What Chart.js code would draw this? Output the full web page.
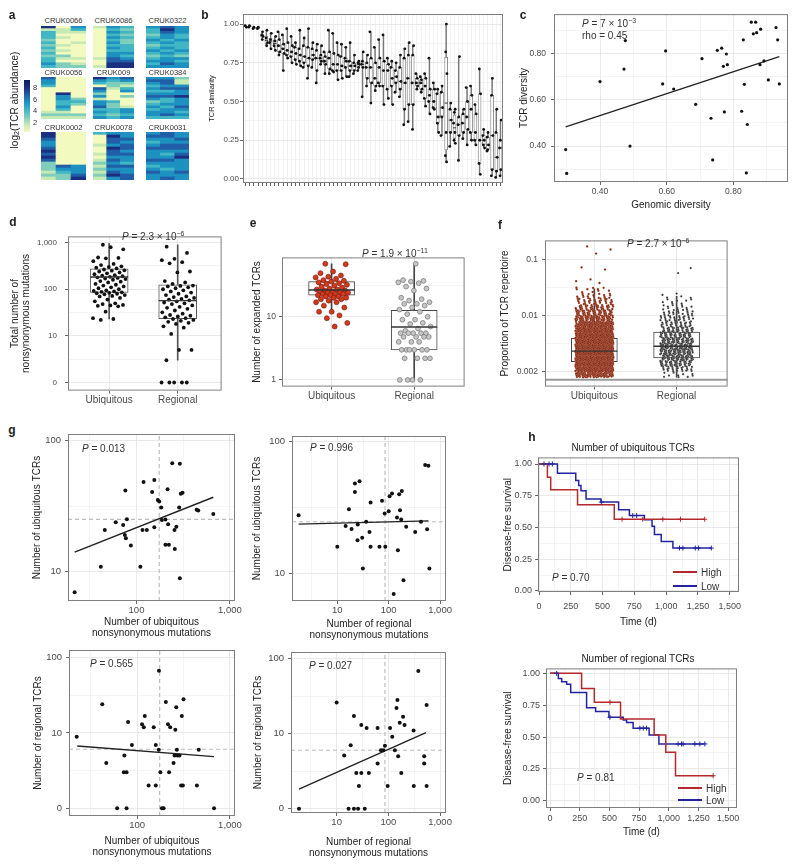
<!DOCTYPE html>
<html>
<head>
<meta charset="utf-8">
<title>TCR figure</title>
<script src="https://cdn.jsdelivr.net/npm/chart.js@4.4.1/dist/chart.umd.min.js"></script>
<style>
  body { margin: 0; background: #fff; }
  #fig { position: relative; width: 800px; height: 868px; overflow: hidden; font-family: "Liberation Sans", Arial, sans-serif; color: #222; }
  #fig canvas { position: absolute; }
  .lt { position: absolute; font-weight: bold; font-size: 12px; transform: translate(-50%, -50%); }
  .ann { position: absolute; white-space: nowrap; font-size: 10px; transform: translateY(-50%); color: #333; }
  .ctr { position: absolute; white-space: nowrap; font-size: 10px; transform: translate(-50%, -50%); color: #222; }
  .hmt { position: absolute; white-space: nowrap; font-size: 7.5px; transform: translate(-50%, -50%); color: #333; }
  .rot { position: absolute; white-space: nowrap; font-size: 10px; transform: translate(-50%, -50%) rotate(-90deg); color: #222; }
  .leg { position: absolute; height: 2px; }
  sup { font-size: 70%; vertical-align: 0.5em; line-height: 0; }
  sub { font-size: 70%; vertical-align: -0.25em; line-height: 0; }
</style>
</head>
<body>
<div id="fig"></div>
<script>
// ---------- a: log2 TCR abundance per clone (rows) and region (cols) ----------
const hmNames = ['CRUK0066', 'CRUK0086', 'CRUK0322', 'CRUK0056', 'CRUK009', 'CRUK0384', 'CRUK0002', 'CRUK0078', 'CRUK0031'];
const hmRegions = ['R1', 'R2', 'R3'];
const hm0066 = [[8,2,6],[3,3,5],[5,3,3],[5,2,2],[5,3,2],[4,2,2],[5,2,3],[4,3,2],[5,2,2],[4,3,2],[5,2,2],[4,4,2],[5,3,3],[5,2,2],[6,4,3],[5,4,4]];
const hm0086 = [[3,6,5],[2,5,4],[2,6,5],[2,5,4],[2,6,5],[2,5,4],[2,6,4],[2,5,5],[2,6,5],[2,5,5],[2,6,6],[2,6,5],[3,7,6],[2,7,7],[2,8,8],[3,8,8]];
const hm0322 = [[6,7,6],[5,8,6],[5,7,6],[4,6,5],[5,6,5],[6,5,6],[5,6,5],[4,5,5],[5,6,5],[6,5,6],[5,6,5],[4,5,4],[5,6,6],[6,6,5],[5,7,6],[6,6,6]];
const hm0056 = [[7,2,2],[6,2,2],[6,2,2],[5,2,2],[2,2,2],[2,2,2],[2,8,2],[2,6,2],[2,6,4],[2,5,5],[2,5,4],[2,6,2],[2,5,2],[3,3,2],[4,4,4],[3,3,3]];
const hm009 = [[8,6,7],[6,5,6],[5,4,4],[2,4,3],[7,3,5],[6,2,6],[4,2,2],[6,2,4],[3,2,2],[6,5,2],[6,4,2],[7,4,3],[5,5,6],[6,5,6],[5,4,5],[6,5,6]];
const hm0384 = [[6,6,4],[7,7,3],[6,7,3],[5,6,6],[6,7,7],[5,5,6],[6,6,6],[7,7,8],[6,5,6],[4,5,6],[5,6,6],[6,5,7],[5,6,6],[6,6,5],[6,7,6],[5,5,5]];
const hm0002 = [[8,2,2],[8,2,2],[7,2,2],[6,2,2],[6,2,2],[7,2,2],[8,2,2],[7,2,2],[8,2,2],[7,2,2],[4,2,2],[4,7,6],[4,6,6],[3,5,6],[4,4,7],[3,4,8]];
const hm0078 = [[5,6,6],[2,8,6],[2,7,7],[2,7,6],[3,6,7],[2,8,7],[2,7,6],[3,7,7],[2,6,6],[3,7,6],[4,6,5],[3,7,7],[4,6,6],[3,7,6],[4,8,7],[3,6,7]];
const hm0031 = [[6,7,6],[7,7,6],[6,6,7],[5,6,6],[6,7,7],[7,7,7],[6,6,6],[6,5,7],[6,6,8],[7,7,6],[6,6,6],[5,6,6],[6,5,6],[7,6,7],[6,6,6],[6,7,6]];
const hmSets = [hm0066, hm0086, hm0322, hm0056, hm009, hm0384, hm0002, hm0078, hm0031];
const hmLegendTicks = [8, 6, 4, 2];

// ---------- b: TCR similarity between regions, per patient ----------
const bSamples = [
  [0.99,0.98],[0.99,0.98],[0.98,0.97],[0.98,0.97],
  [0.95,0.93,0.92,0.90],[0.96,0.91,0.88,0.86],[0.94,0.90,0.88,0.84],[0.92,0.89,0.86,0.83],
  [0.95,0.90,0.86,0.82,0.80],[0.93,0.87,0.84,0.81,0.70],[0.97,0.88,0.83,0.80,0.78],[0.92,0.86,0.82,0.79,0.75],
  [0.88,0.85,0.81,0.77,0.74],[0.96,0.84,0.80,0.76,0.73],[0.91,0.86,0.79,0.75,0.72],[0.97,0.85,0.78,0.73,0.65],
  [0.88,0.84,0.80,0.77,0.72],[0.87,0.83,0.78,0.70,0.62],[0.86,0.80,0.78,0.76,0.74],[0.82,0.79,0.76,0.74,0.68],
  [0.96,0.82,0.78,0.71,0.68],[0.94,0.81,0.74,0.70,0.69],[0.88,0.80,0.74,0.70,0.64],[0.87,0.79,0.73,0.70,0.65],
  [0.85,0.78,0.76,0.72,0.66],[0.88,0.76,0.73,0.70,0.66],[0.80,0.75,0.73,0.70,0.68],[0.76,0.75,0.74,0.72,0.70],
  [0.82,0.76,0.74,0.72,0.53],[0.80,0.75,0.72,0.65,0.60],[0.95,0.78,0.72,0.62,0.49],[0.85,0.75,0.65,0.60,0.57],
  [0.90,0.78,0.72,0.62,0.60],[0.93,0.76,0.70,0.60,0.48],[0.78,0.74,0.70,0.58,0.52],[0.76,0.72,0.65,0.60,0.48],
  [0.75,0.70,0.66,0.62,0.56],[0.80,0.72,0.63,0.58,0.53],[0.84,0.78,0.62,0.45,0.35],[0.88,0.80,0.65,0.48,0.37],
  [0.86,0.80,0.62,0.48,0.32],[0.68,0.65,0.62,0.60,0.58],[0.66,0.64,0.62,0.58,0.56],[0.68,0.65,0.60,0.52,0.47],
  [0.78,0.58,0.54,0.50,0.42],[0.62,0.58,0.50,0.46,0.45],[0.58,0.55,0.40,0.36,0.30],[0.60,0.56,0.46,0.40,0.28],
  [1.00,0.82,0.68,0.30,0.15,0.11],[0.49,0.45,0.38,0.30,0.21],[0.45,0.43,0.36,0.30,0.25,0.23],[0.79,0.40,0.35,0.28,0.12],
  [0.45,0.42,0.36,0.30,0.26],[0.59,0.50,0.40,0.32,0.22],[0.60,0.54,0.45,0.30,0.25],[0.48,0.42,0.30,0.25,0.22],
  [0.71,0.55,0.25,0.10,0.03],[0.32,0.28,0.25,0.22,0.20],[0.30,0.27,0.22,0.19,0.18],[0.65,0.54,0.28,0.06,0.02],
  [0.45,0.30,0.14,0.05,0.01],[0.38,0.25,0.20,0.06,0.02]
];
const bTicks = [0, 0.25, 0.5, 0.75, 1];
const bTickLabels = ['0.00', '0.25', '0.50', '0.75', '1.00'];

// ---------- c: genomic vs TCR diversity ----------
const cX = [0.297,0.30,0.40,0.472,0.476,0.49,0.588,0.597,0.621,0.687,0.706,0.733,0.738,0.752,0.765,0.77,0.773,0.779,0.782,0.825,0.83,0.833,0.839,0.842,0.854,0.867,0.86,0.87,0.882,0.88,0.892,0.905,0.928,0.933,0.938];
const cY = [0.385,0.282,0.678,0.732,0.855,0.40,0.668,0.81,0.646,0.58,0.777,0.52,0.34,0.813,0.822,0.744,0.547,0.797,0.751,0.55,0.858,0.666,0.284,0.493,0.934,0.934,0.884,0.889,0.904,0.751,0.767,0.685,0.911,0.858,0.668];
const cFitX = [0.297, 0.938];
const cFitY = [0.483, 0.786];
const cTicks = [0.4, 0.6, 0.8];
const cTickLabels = ['0.40', '0.60', '0.80'];

// ---------- d: nonsynonymous mutations ----------
const dCats = ['Ubiquitous', 'Regional'];
const dUbi = [900,720,800,480,470,460,400,350,330,310,300,290,280,265,255,250,240,230,220,210,200,195,190,185,180,175,170,165,160,150,145,140,130,125,120,115,110,105,100,95,92,90,88,86,84,82,80,78,75,72,70,65,60,55,50,48,46,45,44,43,33,24,23,22];
const dReg = [820,600,450,420,380,360,240,230,150,140,130,120,118,115,110,105,100,95,90,85,80,75,70,68,65,62,60,58,55,52,50,48,45,42,40,38,35,32,30,28,27,26,25,24,23,22,21,20,19,18,16,15,11,5,5,3,0,0,0,0,0];
const dUbiBox = [23, 85, 183, 275, 970];
const dRegBox = [3, 23.5, 57, 125, 900];
const dTicks = [1, 10, 100, 1000];
const dTickLabels = ['0', '10', '100', '1,000'];

// ---------- e: expanded TCRs ----------
const eUbi = [69,68,52,49,45,43,42,40,38,37,36,35,34,33,32,31,30,29,28,27,27,26,26,25,25,24,24,24,23,23,23,22,22,21,21,20,20,19,19,18,17,17,15,14,12,12,10.5,9.5,8,7];
const eReg = [69,38,37,36,35,34,30,28,26,20,19,18,17,16,16,15,14,13,12,11,10,9,9,8,7.7,7,6.5,6,5.5,5.5,5.5,5.5,5.5,4.8,4.8,4.8,4.8,4,4,4,3,3,3,3,3,3,2.2,2.2,2.2,2.2,1,1,1,1];
const eUbiBox = [12, 22, 26.5, 36, 69];
const eRegBox = [1, 3, 6.9, 12.7, 69];
const eTicks = [1, 10];
const eTickLabels = ['1', '10'];

// ---------- f: proportion of repertoire (counts per 0.1 log10 bin from 10^-3.1) ----------
const fBinStart = -3.1;
const fBinStep = 0.1;
const fUbiBins = [80,150,200,220,220,200,170,140,110,85,65,50,38,28,18,10];
const fRegBins = [10,25,45,55,60,60,55,45,38,30,25,18,12,8,5];
const fUbiOut = [0.17, 0.15, 0.127, 0.072, 0.066, 0.044, 0.041, 0.038];
const fRegOut = [0.07, 0.057];
const fUbiBox = [0.0008, 0.0015, 0.00232, 0.00392, 0.03];
const fRegBox = [0.0008, 0.00176, 0.00284, 0.00505, 0.022];
const fLine = 0.00072;
const fTicks = [0.001, 0.01, 0.1];
const fTickLabels = ['0.002', '0.01', '0.1'];

// ---------- g: TCRs vs mutations ----------
const g1X = [21.8,41.5,45.8,60,72,75,77,79,76,87,110,116,129,119,155,147,155,169,175,184,187,204,222,218,215,204,241,291,286,255,257,267,298,311,291,440,458,663];
const g1Y = [6.95,10.9,20.8,23.8,22.7,19,18,25.1,41.5,15.8,10.9,20.8,20.8,48.3,50,40.5,21.8,35.2,34.3,30.8,24.8,16,16,23,42.5,25,67,66.4,30.8,20.8,14.9,22,39.2,40,8.9,29.6,29.2,27.5];
const g2X = [1.76,10,14.5,16.8,18.9,22,22,27,25,24.7,30.5,31.4,36.4,44.4,42.3,44.4,66,74.1,83.5,86,100,104,116,145,151,125,160,166,180,175,194,219,328,425,513,593,560,620];
const g2Y = [27.7,16,22.9,30.8,21.8,48.3,41.5,50.2,23.6,17.9,18.7,10.9,24.7,34.6,20.7,16,16,35.6,28.6,16,29.7,38.6,40.5,26.6,15,7.0,40,30.2,42.2,25.7,8.9,22.6,20.7,24.7,66.6,65.7,21.7,10.9];
const g3X = [22.4,42.2,46.6,61,73,72,77,77,80,88,113,118,121,133,151,159,159,172,171,178,185,193,204,215,227,221,247,253,264,258,268,272,286,303,316,298,311,440,461,673];
const g3Y = [8.9,24,4,0,5,3,3,0,14,6.9,13,11.9,16.8,2,11.9,2,6.9,67,6,3,0,0,25.8,13,11.9,3,4,5,21.9,11,6,5,5,16.8,28,2,2,2,6,0];
const g4X = [1.87,10,14,17,18.7,21.6,21.6,26,24,30,27,30,35,38,42,62,62,72,80,86,97,108,119,134,144,155,150,166,178,193,206,308,311,380,494,494,550,550];
const g4Y = [0,26,5.1,0,7,17.2,0,0,3,3,2,13,0,11.9,3,11.9,4,6,6,6.9,2,11.9,9.1,6,21.9,5,28,14,3,16.8,13,11,2,68,5,4,24,2];
const g1Fit = [[21.8, 663], [14.1, 36.9]];
const g2Fit = [[1.76, 593], [23.7, 25.1]];
const g3Fit = [[22.7, 673], [6.7, 4.85]];
const g4Fit = [[1.87, 535], [1.82, 10.3]];
const g1Cut = [175, 25];
const g2Cut = [85, 24.7];
const g3Cut = [175, 6.07];
const g4Cut = [86, 6.0];

// ---------- h: Kaplan-Meier (step times, survival after step, censor times) ----------
const h1HighT = [0, 66, 92, 303, 592, 1303];
const h1HighS = [1, 0.895, 0.798, 0.68, 0.565, 0.565];
const h1HighC = [653, 816, 974, 1113, 1303];
const h1LowT = [0, 145, 289, 312, 330, 370, 487, 626, 711, 829, 889, 908, 961, 1053, 1355];
const h1LowS = [1, 0.927, 0.87, 0.83, 0.79, 0.725, 0.70, 0.64, 0.594, 0.56, 0.51, 0.445, 0.39, 0.338, 0.338];
const h1LowC = [39, 79, 105, 490, 737, 768, 1105, 1132, 1229, 1255, 1355];
const h2HighT = [0, 266, 373, 594, 877, 975, 1057, 1374];
const h2HighS = [1, 0.882, 0.773, 0.642, 0.517, 0.381, 0.196, 0.196];
const h2HighC = [505, 1374];
const h2LowT = [0, 70, 98, 140, 174, 308, 384, 496, 617, 645, 700, 835, 917, 1304];
const h2LowS = [1, 0.96, 0.935, 0.914, 0.85, 0.73, 0.70, 0.655, 0.634, 0.614, 0.57, 0.517, 0.446, 0.446];
const h2LowC = [56, 505, 757, 785, 813, 1079, 1107, 1121, 1220, 1262, 1304];
const hTicks = [0, 250, 500, 750, 1000, 1250, 1500];
const hTickLabels = ['0', '250', '500', '750', '1,000', '1,250', '1,500'];
const survTicks = [0, 0.25, 0.5, 0.75, 1];
const survTickLabels = ['0.00', '0.25', '0.50', '0.75', '1.00'];

// ---------- helpers ----------
const FONT = '"Liberation Sans", Arial, sans-serif';
Chart.defaults.font.family = FONT;

Chart.register({
  id: 'frame',
  afterDatasetsDraw(chart, args, o) {
    if (!o || !o.color) return;
    const a = chart.chartArea, ctx = chart.ctx;
    ctx.save();
    ctx.strokeStyle = o.color;
    ctx.lineWidth = 1;
    ctx.strokeRect(a.left + 0.5, a.top + 0.5, a.right - a.left - 1, a.bottom - a.top - 1);
    ctx.restore();
  }
});

const fig = document.getElementById('fig');

function canvasAt(x, y, w, h) {
  const c = document.createElement('canvas');
  c.width = w; c.height = h;
  c.style.left = x + 'px'; c.style.top = y + 'px';
  c.style.width = w + 'px'; c.style.height = h + 'px';
  fig.appendChild(c);
  return c;
}

function addText(html, x, y, cls) {
  const d = document.createElement('div');
  d.className = cls;
  d.innerHTML = html;
  d.style.left = x + 'px';
  d.style.top = y + 'px';
  fig.appendChild(d);
  return d;
}

const jit = (i, w) => (((i * 0.6180339887 + 0.31) % 1) - 0.5) * 2 * w;
const pz = v => (v === 0 ? 1 : v);
const xy = (xs, ys) => xs.map((x, i) => ({x, y: ys[i]}));

function quart(arr) {
  const s = arr.slice().sort((a, b) => a - b);
  const q = p => {
    const i = (s.length - 1) * p, lo = Math.floor(i), hi = Math.ceil(i);
    return s[lo] + (s[hi] - s[lo]) * (i - lo);
  };
  return [s[0], q(0.25), q(0.5), q(0.75), s[s.length - 1]];
}

function axis(o) {
  const majors = o.majors, minors = o.minors || [];
  const labels = o.labels || majors.map(String);
  const lab = new Map(majors.map((v, i) => [v, labels[i]]));
  const all = majors.concat(minors).sort((a, b) => a - b);
  return {
    type: o.type || 'linear', min: o.min, max: o.max, offset: false, beginAtZero: false,
    afterBuildTicks: s => { s.ticks = all.map(v => ({value: v})); },
    border: {display: false},
    grid: {
      offset: false, lineWidth: 0.8, tickLength: 3, tickWidth: 1,
      color: c => (c.tick && lab.has(c.tick.value)) ? (o.grid || '#e3e3e3') : '#f1f1f1',
      tickColor: c => (c.tick && lab.has(c.tick.value)) ? '#666' : 'rgba(0,0,0,0)'
    },
    ticks: {
      autoSkip: false, maxRotation: 0, minRotation: 0, padding: o.pad ?? 2, color: '#4a4a4a',
      font: {size: o.fs || 9}, callback: v => (lab.has(v) ? lab.get(v) : '')
    },
    title: o.title
      ? {display: true, text: o.title, color: '#222', padding: {top: 0, bottom: 0}, font: {size: o.ts || 10, lineHeight: o.lh || 1.2}}
      : {display: false}
  };
}

// frame = [left, top, right, bottom] of the plot panel; pad = [left, top, right, bottom] around it
function makeChart(frame, pad, datasets, xAxis, yAxis) {
  const [L, T, R, B] = frame;
  const cv = canvasAt(L - pad[0], T - pad[1], R - L + pad[0] + pad[2], B - T + pad[1] + pad[3]);
  xAxis.afterFit = s => { s.height = pad[3]; };
  yAxis.afterFit = s => { s.width = pad[0]; };
  return new Chart(cv, {
    type: 'scatter',
    data: {datasets},
    options: {
      responsive: false, animation: false, events: [],
      layout: {padding: {top: pad[1], right: pad[2], left: 0, bottom: 0}},
      plugins: {legend: {display: false}, tooltip: {enabled: false}, frame: {color: '#7f7f7f'}},
      scales: {x: xAxis, y: yAxis}
    }
  });
}

function pts(data, fill, r, border, bw) {
  return {data, pointRadius: r, pointBackgroundColor: fill, pointBorderColor: border || fill, pointBorderWidth: bw || 0, order: 0};
}
function line(data, color, width, dash) {
  return {data, showLine: true, borderColor: color, borderWidth: width, borderDash: dash || [], pointRadius: 0, order: 1};
}
function boxSets(k, box, halfW, col) {
  return [
    {data: [{x: k, y: box[2]}], pointStyle: 'line', pointRadius: halfW, pointBorderColor: '#333', pointBorderWidth: 1.4, order: -1},
    {type: 'bar', data: [{x: k, y: [box[1], box[3]]}], grouped: false, barThickness: halfW * 2, backgroundColor: '#fff', borderColor: col, borderWidth: 1, borderSkipped: false, order: 2},
    {type: 'bar', data: [{x: k, y: [box[0], box[4]]}], grouped: false, barThickness: 1, backgroundColor: col, order: 3}
  ];
}

// ---------- panel a ----------
const hmPalette = [null, '#ffffd9', '#f3fabf', '#c7e9b4', '#7fcdbb', '#41b6c4', '#1d91c0', '#225ea8', '#1a2f80', '#081d58'];
const hmRects = [[41,26,86,68],[93,26,134,68],[146,26,189,68],[41,77,86,119],[93,77,134,119],[146,77,189,119],[41,132,86,180],[93,132,134,180],[146,132,189,180]];
const hmTitleY = [20, 20, 20, 72, 72, 72, 127, 127, 127];
hmSets.forEach((rows, i) => {
  const [x0, y0, x1, y1] = hmRects[i];
  const cv = canvasAt(x0, y0, x1 - x0, y1 - y0);
  new Chart(cv, {
    type: 'bar',
    data: {
      labels: hmRegions,
      datasets: rows.slice().reverse().map(r => ({
        data: r.map(() => 1), backgroundColor: r.map(v => hmPalette[v]),
        borderWidth: 0, barPercentage: 1, categoryPercentage: 1
      }))
    },
    options: {
      responsive: false, animation: false, events: [], layout: {padding: 0},
      plugins: {legend: {display: false}, tooltip: {enabled: false}},
      scales: {x: {display: false, stacked: true}, y: {display: false, stacked: true, min: 0, max: rows.length}}
    }
  });
  addText(hmNames[i], (x0 + x1) / 2, hmTitleY[i], 'hmt');
});
const grad = document.createElement('div');
Object.assign(grad.style, {position: 'absolute', left: '24px', top: '80px', width: '6px', height: '52px',
  background: 'linear-gradient(to top, #f3fabf, #c7e9b4, #7fcdbb, #41b6c4, #1d91c0, #225ea8, #1a2f80, #081d58)'});
fig.appendChild(grad);
hmLegendTicks.forEach((v, i) => addText(String(v), 35, 87 + i * 11.5, 'hmt'));
addText('log<sub>2</sub>(TCR abundance)', 14, 100, 'rot');

// ---------- panel b ----------
const bStats = bSamples.map(quart);
const bPts = [];
bSamples.forEach((s, k) => s.forEach((v, j) => bPts.push({x: k + jit(k * 5 + j, 0.25), y: v})));
const bIdx = bSamples.map((s, k) => k);
makeChart([243, 14, 504, 183], [36, 10, 4, 8], [
  pts(bPts, '#111', 1.4),
  {data: bStats.map((s, k) => ({x: k, y: s[2]})), pointStyle: 'line', pointRadius: 1.6, pointBorderColor: '#333', pointBorderWidth: 1, order: 1},
  {type: 'bar', data: bStats.map((s, k) => ({x: k, y: [s[1], s[3]]})), grouped: false, barThickness: 3, backgroundColor: '#fff', borderColor: '#777', borderWidth: 0.8, borderSkipped: false, order: 2},
  {type: 'bar', data: bStats.map((s, k) => ({x: k, y: [s[0], s[4]]})), grouped: false, barThickness: 0.8, backgroundColor: '#777', order: 3}
], axis({min: -0.6, max: bSamples.length - 0.4, majors: bIdx, labels: bIdx.map(() => ''), grid: '#eeeeee'}),
   axis({min: -0.026, max: 1.065, majors: bTicks, labels: bTickLabels, minors: [0.125, 0.375, 0.625, 0.875], fs: 8, pad: 1, title: 'TCR similarity', ts: 7.5}));

// ---------- panel c ----------
makeChart([554, 14, 788, 182], [36, 10, 8, 29], [
  pts(xy(cX, cY), '#111', 1.6),
  line(xy(cFitX, cFitY), '#222', 1.3)
], axis({min: 0.262, max: 0.964, majors: cTicks, labels: cTickLabels, minors: [0.3, 0.5, 0.7, 0.9], fs: 8.5, pad: 2, title: 'Genomic diversity'}),
   axis({min: 0.245, max: 0.969, majors: cTicks, labels: cTickLabels, minors: [0.3, 0.5, 0.7, 0.9], fs: 8.5, pad: 5, title: 'TCR diversity'}));

// ---------- panel d ----------
makeChart([68, 226, 236, 393], [58, 10, 6, 18], [
  pts(dUbi.map((v, i) => ({x: jit(i, 0.24), y: pz(v)})), '#111', 1.9),
  pts(dReg.map((v, i) => ({x: 1 + jit(i + 3, 0.24), y: pz(v)})), '#111', 1.9),
  ...boxSets(0, dUbiBox, 19, '#555'),
  ...boxSets(1, dRegBox, 19, '#555')
], axis({min: -0.6, max: 1.64, majors: [0, 1], labels: dCats, fs: 10, pad: 1}),
   axis({type: 'logarithmic', min: 0.67, max: 1360, majors: dTicks, labels: dTickLabels, minors: [3.162, 31.62, 316.2], fs: 8, pad: 8,
         title: ['Total number of', 'nonsynonymous mutations'], lh: 1.05}));

// ---------- panel e ----------
makeChart([282, 243, 483, 393], [31, 10, 6, 18], [
  pts(eUbi.map((v, i) => ({x: jit(i, 0.2), y: v})), '#d5391d', 2.5, '#6e1a0b', 0.6),
  pts(eReg.map((v, i) => ({x: 1 + jit(i + 2, 0.2), y: v})), '#c6c6c6', 2.4, '#7c7c7c', 0.8),
  ...boxSets(0, eUbiBox, 23, '#444'),
  ...boxSets(1, eRegBox, 23, '#444')
], axis({min: -0.6, max: 1.61, majors: [0, 1], labels: dCats, fs: 10, pad: 1}),
   axis({type: 'logarithmic', min: 0.785, max: 87, majors: eTicks, labels: eTickLabels, minors: [3.162, 31.62], fs: 8.5, pad: 3,
         title: 'Number of expanded TCRs'}));

// ---------- panel f ----------
function binPoints(bins, cat, w, seed) {
  const out = [];
  let n = seed;
  bins.forEach((cnt, b) => {
    for (let k = 0; k < cnt; k++, n++) {
      const fy = (n * 0.7548776662) % 1;
      const fx = (n * 0.5698402910) % 1;
      out.push({x: cat + (fx - 0.5) * 2 * w, y: Math.pow(10, fBinStart + (b + fy) * fBinStep)});
    }
  });
  return out;
}
makeChart([545, 226, 746, 393], [46, 10, 6, 18], [
  pts(binPoints(fUbiBins, 0, 0.23, 1).concat(fUbiOut.map((v, i) => ({x: jit(i, 0.23), y: v}))), '#7e2611', 1.15, 'rgba(240,170,150,0.55)', 0.35),
  pts(binPoints(fRegBins, 1, 0.2, 7).concat(fRegOut.map((v, i) => ({x: 1 + jit(i + 1, 0.2), y: v}))), '#2e2e2e', 1.1, 'rgba(255,255,255,0.5)', 0.3),
  line([{x: -0.6, y: fLine}, {x: 1.62, y: fLine}], '#9a9a9a', 2),
  ...boxSets(0, fUbiBox, 23, '#444'),
  ...boxSets(1, fRegBox, 23, '#444')
], axis({min: -0.6, max: 1.62, majors: [0, 1], labels: dCats, fs: 10, pad: 1}),
   axis({type: 'logarithmic', min: 0.000542, max: 0.218, majors: fTicks, labels: fTickLabels, minors: [0.003162, 0.03162], fs: 8.5, pad: 4,
         title: 'Proportion of TCR repertoire'}));

// ---------- panel g ----------
function gPanel(frame, pad, X, Y, fit, cut, xr, yr, xt, yt, zeroY) {
  const ys = zeroY ? Y.map(pz) : Y;
  const xAx = xr[0] < 10
    ? {majors: [10, 100, 1000], labels: ['10', '100', '1,000'], minors: [3.162, 31.62, 316.2]}
    : {majors: [100, 1000], labels: ['100', '1,000'], minors: [31.62, 316.2]};
  const yAx = zeroY
    ? {majors: [1, 10, 100], labels: ['0', '10', '100'], minors: [3.162, 31.62]}
    : {majors: [10, 100], labels: ['10', '100'], minors: [31.62]};
  makeChart(frame, pad, [
    pts(xy(X, ys), '#111', 2),
    line(xy(fit[0], fit[1]), '#222', 1.4),
    line([{x: cut[0], y: yr[0]}, {x: cut[0], y: yr[1]}], '#bdbdbd', 1.2, [4, 3]),
    line([{x: xr[0], y: cut[1]}, {x: xr[1], y: cut[1]}], '#bdbdbd', 1.2, [4, 3])
  ], axis(Object.assign({type: 'logarithmic', min: xr[0], max: xr[1], fs: 9.5, pad: 1, title: xt, lh: 1.1}, xAx)),
     axis(Object.assign({type: 'logarithmic', min: yr[0], max: yr[1], fs: 9.5, pad: 4, title: yt}, yAx)));
}
const xtU = ['Number of ubiquitous', 'nonsynonymous mutations'];
const xtR = ['Number of regional', 'nonsynonymous mutations'];
gPanel([68, 434, 235, 601], [37, 10, 14, 38], g1X, g1Y, g1Fit, g1Cut, [18.5, 1132], [5.97, 112], xtU, 'Number of ubiquitous TCRs', false);
gPanel([292, 436, 446, 601], [41, 10, 14, 40], g2X, g2Y, g2Fit, g2Cut, [1.31, 1305], [6.19, 110.5], xtR, 'Number of ubiquitous TCRs', false);
gPanel([69, 650, 235, 816], [37, 10, 14, 42], g3X, g3Y, g3Fit, g3Cut, [18.5, 1132], [0.79, 126], xtU, 'Number of regional TCRs', true);
gPanel([291, 652, 446, 813], [39, 10, 14, 46], g4X, g4Y, g4Fit, g4Cut, [1.31, 1305], [0.877, 122], xtR, 'Number of regional TCRs', true);

// ---------- panel h ----------
const RED = '#b5282c', BLUE = '#2323a0';
const survAt = (t, T, S) => { let s = S[0]; T.forEach((x, i) => { if (x <= t) s = S[i]; }); return s; };
function kmSets(T, S, C, col) {
  return [
    {type: 'line', data: xy(T, S), stepped: true, borderColor: col, borderWidth: 1.5, pointRadius: 0, fill: false, order: 1},
    {data: C.map(t => ({x: t, y: survAt(t, T, S)})), pointStyle: 'cross', pointRadius: 2.5, pointBorderColor: col, pointBorderWidth: 1, order: 0}
  ];
}
function hPanel(frame, pad, sets, xr, yr, tickPad) {
  makeChart(frame, pad, sets,
    axis({min: xr[0], max: xr[1], majors: hTicks, labels: hTickLabels, minors: [125, 375, 625, 875, 1125, 1375], fs: 9, pad: tickPad, title: 'Time (d)'}),
    axis({min: yr[0], max: yr[1], majors: survTicks, labels: survTickLabels, minors: [0.125, 0.375, 0.625, 0.875], fs: 9, pad: 3, title: 'Disease-free survival'}));
}
hPanel([538, 457, 739, 592], [36, 8, 10, 36],
  [...kmSets(h1HighT, h1HighS, h1HighC, RED), ...kmSets(h1LowT, h1LowS, h1LowC, BLUE)], [-8, 1573], [-0.008, 1.052], 6);
hPanel([546, 668, 737, 808], [44, 8, 10, 30],
  [...kmSets(h2HighT, h2HighS, h2HighC, RED), ...kmSets(h2LowT, h2LowS, h2LowC, BLUE)], [-34, 1575], [-0.057, 1.039], 2);

addText('Number of ubiquitous TCRs', 633, 447, 'ctr');
addText('Number of regional TCRs', 638, 658, 'ctr');
function legendRow(x, y, col, label) {
  const l = document.createElement('div');
  l.className = 'leg';
  Object.assign(l.style, {left: x + 'px', top: (y - 1) + 'px', width: '24px', background: col});
  fig.appendChild(l);
  addText(label, x + 28, y, 'ann');
}
legendRow(673, 572, RED, 'High');
legendRow(673, 586, BLUE, 'Low');
legendRow(678, 788, RED, 'High');
legendRow(678, 800, BLUE, 'Low');

// ---------- annotations & panel letters ----------
[
  ['<i>P</i> = 7 × 10<sup>−3</sup>', 582, 23],
  ['rho = 0.45', 582, 35],
  ['<i>P</i> = 2.3 × 10<sup>−6</sup>', 122, 236],
  ['<i>P</i> = 1.9 × 10<sup>−11</sup>', 362, 253],
  ['<i>P</i> = 2.7 × 10<sup>−6</sup>', 627, 243],
  ['<i>P</i> = 0.013', 82, 448],
  ['<i>P</i> = 0.996', 310, 447],
  ['<i>P</i> = 0.565', 90, 663],
  ['<i>P</i> = 0.027', 309, 665],
  ['<i>P</i> = 0.70', 552, 577],
  ['<i>P</i> = 0.81', 577, 777]
].forEach(([h, x, y]) => addText(h, x, y, 'ann'));

[['a', 12, 15], ['b', 205, 15], ['c', 523, 15], ['d', 13, 222], ['e', 253, 223], ['f', 500, 225], ['g', 12, 430], ['h', 532, 437]]
  .forEach(([t, x, y]) => addText(t, x, y, 'lt'));
</script>
</body>
</html>
